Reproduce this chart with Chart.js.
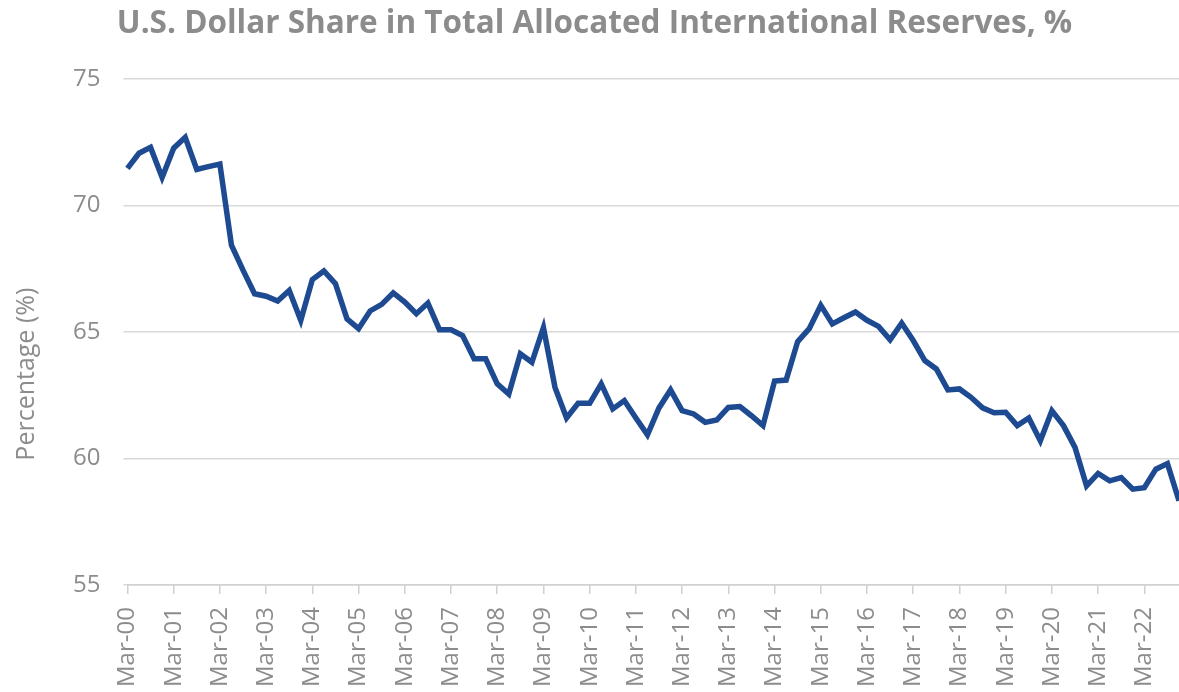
<!DOCTYPE html>
<html>
<head>
<meta charset="utf-8">
<title>U.S. Dollar Share in Total Allocated International Reserves</title>
<script src="https://cdn.jsdelivr.net/npm/chart.js@4.4.1/dist/chart.umd.min.js"></script>
<style>
  html, body { margin: 0; padding: 0; background: #fff; overflow: hidden; }
  #wrap { position: relative; width: 1179px; height: 720px; }
</style>
</head>
<body>
<div id="wrap"><canvas id="reservesChart"></canvas></div>
<script>
// quarters and years of the series (Mar-00 .. Dec-22)
const quarters = ['Mar', 'Jun', 'Sep', 'Dec'];
const years = ['00', '01', '02', '03', '04', '05', '06', '07', '08', '09', '10', '11',
               '12', '13', '14', '15', '16', '17', '18', '19', '20', '21', '22'];

// USD share of allocated reserves, % (one row per year)
const usdShare = [
  71.46, 72.06, 72.29, 71.10,
  72.26, 72.69, 71.42, 71.53,
  71.63, 68.43, 67.44, 66.51,
  66.41, 66.22, 66.64, 65.46,
  67.07, 67.41, 66.91, 65.52,
  65.13, 65.83, 66.09, 66.54,
  66.18, 65.72, 66.14, 65.09,
  65.09, 64.86, 63.94, 63.94,
  62.95, 62.55, 64.14, 63.80,
  65.17, 62.81, 61.60, 62.18,
  62.18, 62.95, 61.96, 62.29,
  61.60, 60.94, 62.00, 62.71,
  61.89, 61.76, 61.43, 61.52,
  62.02, 62.05, 61.69, 61.30,
  63.06, 63.10, 64.62, 65.13,
  66.05, 65.32, 65.56, 65.79,
  65.46, 65.22, 64.69, 65.35,
  64.66, 63.87, 63.54, 62.71,
  62.75, 62.42, 62.00, 61.81,
  61.83, 61.30, 61.60, 60.70,
  61.89, 61.30, 60.44, 58.92,
  59.41, 59.12, 59.25, 58.79,
  58.85, 59.58, 59.80, 58.33
];

const yTicks = [55, 60, 65, 70, 75];

// labels "Mar-00", "Jun-00", ...
const labels = [];
years.forEach(function(yr){
    quarters.forEach(function(q){
        labels.push(q + '-' + yr);
    });
});

const grey = '#8c8c8c';
const gridGrey = '#d9d9d9';

const ctx = document.getElementById('reservesChart').getContext('2d');
const reservesChart = new Chart(ctx, {
  type: 'line',
  data: {
    labels: labels,
    datasets: [{
      label: 'USD share',
      data: usdShare,
      borderColor: '#1d4a90',
      borderWidth: 5.5,
      pointRadius: 0,
      tension: 0,
      fill: false
    }]
  },
  options: {
    responsive: true,
    maintainAspectRatio: false,
    animation: false,
    layout: { padding: { left: 10, right: 0, top: 0, bottom: 20 } },
    plugins: {
      legend: { display: false },
      tooltip: { enabled: false },
      title: {
        display: true,
        text: 'U.S. Dollar Share in Total Allocated International Reserves, %',
        color: grey,
        font: { family: 'Open Sans', size: 31.5, weight: 'bold' },
        padding: { top: 5, bottom: 36 }
      }
    },
    scales: {
      x: {
        offset: false,
        // pas de marge à droite : la courbe va jusqu'au bord
        afterFit: function(axis){
            axis.paddingRight = 0;
            axis.paddingLeft = 0;
        },
        grid: { display: true, drawOnChartArea: false, tickLength: 9, color: '#d0d0d0', lineWidth: 1.5 },
        border: { display: true, color: '#d0d0d0', width: 1.5 },
        ticks: {
          autoSkip: false,
          maxRotation: 90,
          minRotation: 90,
          padding: 13,
          color: grey,
          font: { family: 'Open Sans', size: 24 },
          callback: function(value, index){
              return index % 4 === 0 ? labels[index] : null;
          }
        }
      },
      y: {
        min: 55,
        max: 75,
        afterBuildTicks: function(axis){
            axis.ticks = yTicks.map(function(v){ return { value: v }; });
        },
        grid: { color: gridGrey, lineWidth: 1.5, tickLength: 4 },
        border: { display: false },
        ticks: {
          padding: 23,
          color: grey,
          font: { family: 'Open Sans', size: 24 }
        },
        title: {
          display: true,
          // espaces insécables en fin de texte pour descendre le titre
          text: 'Percentage (%)' + '\u00a0'.repeat(13),
          color: grey,
          font: { family: 'Open Sans', size: 25 },
          padding: { top: 2, bottom: 8 }
        }
      }
    }
  }
});
</script>
</body>
</html>
